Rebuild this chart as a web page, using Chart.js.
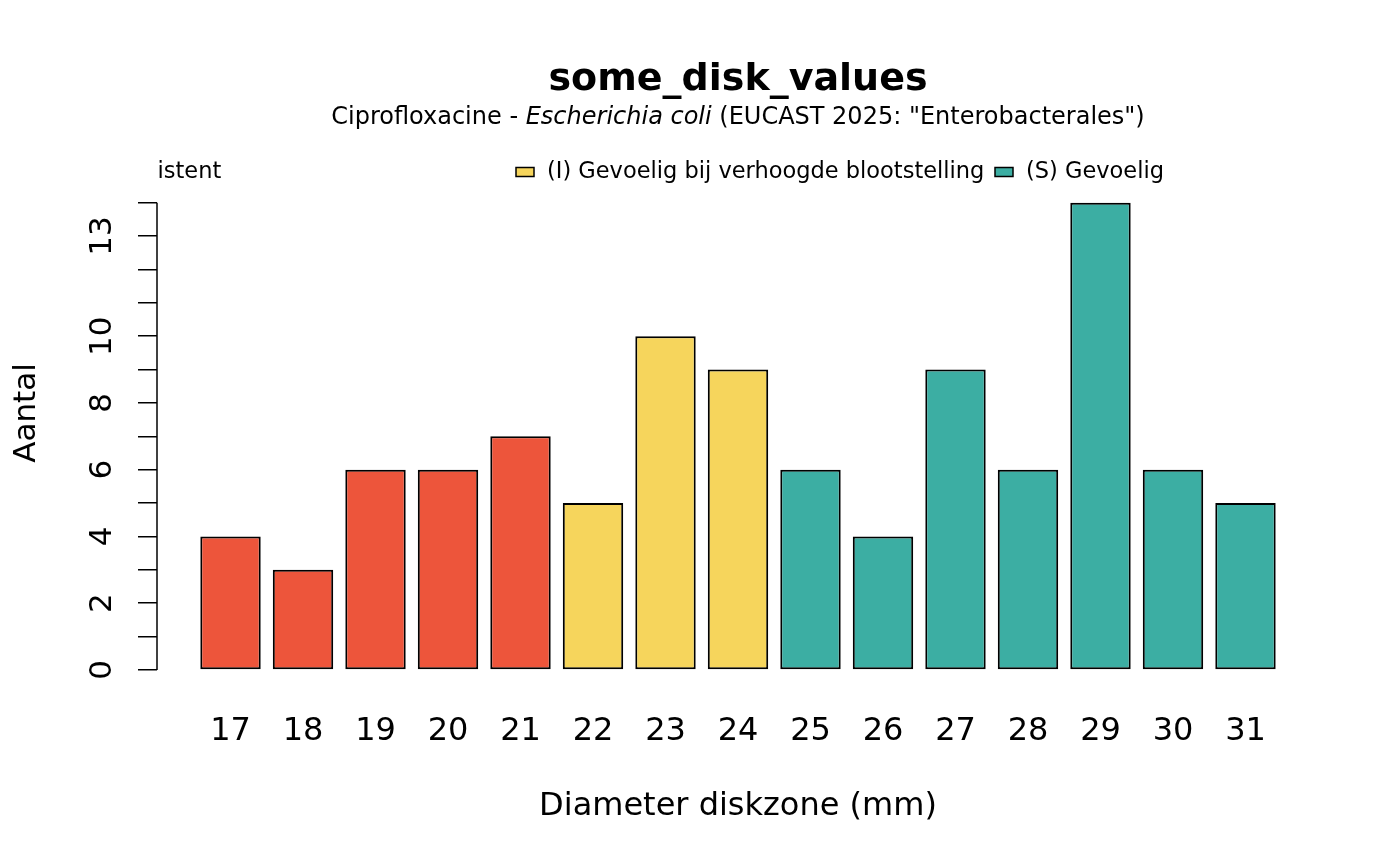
<!DOCTYPE html>
<html>
<head>
<meta charset="utf-8">
<title>some_disk_values</title>
<script src="https://cdn.jsdelivr.net/npm/chart.js@4.4.1/dist/chart.umd.min.js"></script>
<style>
  html, body { margin: 0; padding: 0; background: #fff; }
  #wrap { width: 1400px; height: 866px; }
</style>
</head>
<body>
<div id="wrap"><canvas id="diskChart" width="1400" height="866"></canvas></div>
<script>
// data
const diameters = [17, 18, 19, 20, 21, 22, 23, 24, 25, 26, 27, 28, 29, 30, 31];
const counts = [4, 3, 6, 6, 7, 5, 10, 9, 6, 4, 9, 6, 14, 6, 5];
const interpretations = ['R', 'R', 'R', 'R', 'R', 'I', 'I', 'I', 'S', 'S', 'S', 'S', 'S', 'S', 'S'];
const yTicks = [0, 1, 2, 3, 4, 5, 6, 7, 8, 9, 10, 11, 12, 13, 14];
const yTickLabels = [0, 2, 4, 6, 8, 10, 13];
const legendKeys = ['R', 'I', 'S'];
const legendLabels = ['(R) Resistent', '(I) Gevoelig bij verhoogde blootstelling', '(S) Gevoelig'];

const chartTitle = 'some_disk_values';
const subtitleParts = [
    { text: 'Ciprofloxacine - ', italic: false },
    { text: 'Escherichia coli', italic: true },
    { text: ' (EUCAST 2025: "Enterobacterales")', italic: false }
];

const sirColours = { R: '#ED553B', I: '#F6D55C', S: '#3CAEA3' };
const FONT = '"DejaVu Sans", sans-serif';

// R draws the y axis line only from the first to the last tick
const axisLinePlugin = {
    id: 'axisLine',
    afterDraw(chart) {
        const ctx = chart.ctx;
        const y = chart.scales.y;
        const x = chart.chartArea.left;
        ctx.save();
        ctx.strokeStyle = '#000';
        ctx.lineWidth = 1.5;
        ctx.beginPath();
        ctx.moveTo(x, y.getPixelForValue(yTicks[0]));
        ctx.lineTo(x, y.getPixelForValue(yTicks[yTicks.length - 1]));
        ctx.stroke();
        ctx.restore();
    }
};

// title, subtitle and the (clipped) legend, like R draws them
const headerPlugin = {
    id: 'header',
    afterDraw(chart) {
        const ctx = chart.ctx;
        const area = chart.chartArea;
        const cx = (area.left + area.right) / 2;
        ctx.save();
        ctx.fillStyle = '#000';
        ctx.textBaseline = 'middle';

        ctx.textAlign = 'center';
        ctx.font = 'bold 38px ' + FONT;
        ctx.fillText(chartTitle, cx, 80);

        // subtitle with italic species name
        ctx.textAlign = 'left';
        let total = 0;
        subtitleParts.forEach(p => {
            ctx.font = (p.italic ? 'italic ' : '') + '24px ' + FONT;
            p.w = ctx.measureText(p.text).width;
            total += p.w;
        });
        let x = cx - total / 2;
        subtitleParts.forEach(p => {
            ctx.font = (p.italic ? 'italic ' : '') + '24px ' + FONT;
            ctx.fillText(p.text, x, 118);
            x += p.w;
        });

        // legend, clipped at the left of the plot region
        ctx.beginPath();
        ctx.rect(area.left, 0, chart.width - area.left, chart.height);
        ctx.clip();
        const y = 172;
        const boxX = [46, 516, 995];
        legendKeys.forEach((k, i) => {
            ctx.fillStyle = sirColours[k];
            ctx.fillRect(boxX[i], y - 4.5, 18, 9);
            ctx.strokeStyle = '#000';
            ctx.lineWidth = 1.5;
            ctx.strokeRect(boxX[i], y - 4.5, 18, 9);
        });
        ctx.fillStyle = '#000';
        ctx.font = '22.5px ' + FONT;
        legendLabels.forEach((label, i) => {
            ctx.fillText(label, boxX[i] + 31, y);
        });
        ctx.restore();
    }
};

const ctx = document.getElementById('diskChart').getContext('2d');
new Chart(ctx, {
    type: 'bar',
    data: {
        datasets: [{
            data: diameters.map((d, i) => ({ x: d, y: counts[i] })),
            backgroundColor: interpretations.map(k => sirColours[k]),
            borderColor: '#000',
            borderWidth: 2,
            borderSkipped: false,
            barPercentage: 1 / 1.2,
            categoryPercentage: 1
        }]
    },
    options: {
        responsive: false,
        animation: false,
        devicePixelRatio: 1,
        layout: { padding: { top: 156, right: 81, left: 0, bottom: 0 } },
        plugins: {
            legend: { display: false },
            tooltip: { enabled: false },
            title: { display: false }
        },
        scales: {
            x: {
                type: 'linear',
                offset: false,
                min: diameters[0] - 1.014,
                max: diameters[diameters.length - 1] + 1.014,
                afterBuildTicks: scale => { scale.ticks = diameters.map(v => ({ value: v })); },
                afterFit: scale => { scale.height = 196; },
                grid: { display: false, drawTicks: false },
                border: { display: false },
                ticks: {
                    autoSkip: false,
                    maxRotation: 0,
                    padding: 42,
                    color: '#000',
                    font: { family: FONT, size: 32 }
                },
                title: {
                    display: true,
                    text: 'Diameter diskzone (mm)',
                    color: '#000',
                    font: { family: FONT, size: 32 },
                    padding: { top: 0, bottom: 40 }
                }
            },
            y: {
                min: 0,
                max: 15.4,
                afterBuildTicks: scale => { scale.ticks = yTicks.map(v => ({ value: v })); },
                afterFit: scale => { scale.width = 157; },
                grid: {
                    drawOnChartArea: false,
                    drawTicks: true,
                    tickLength: 19,
                    color: '#000',
                    lineWidth: 1.5
                },
                border: { display: false },
                ticks: {
                    autoSkip: false,
                    minRotation: 90,
                    maxRotation: 90,
                    crossAlign: 'center',
                    padding: 15,
                    color: '#000',
                    font: { family: FONT, size: 31 },
                    callback: v => yTickLabels.includes(v) ? String(v) : ''
                },
                title: {
                    display: true,
                    text: 'Aantal',
                    color: '#000',
                    font: { family: FONT, size: 31 },
                    padding: { top: 8, bottom: 0 }
                }
            }
        }
    },
    plugins: [axisLinePlugin, headerPlugin]
});
</script>
</body>
</html>
